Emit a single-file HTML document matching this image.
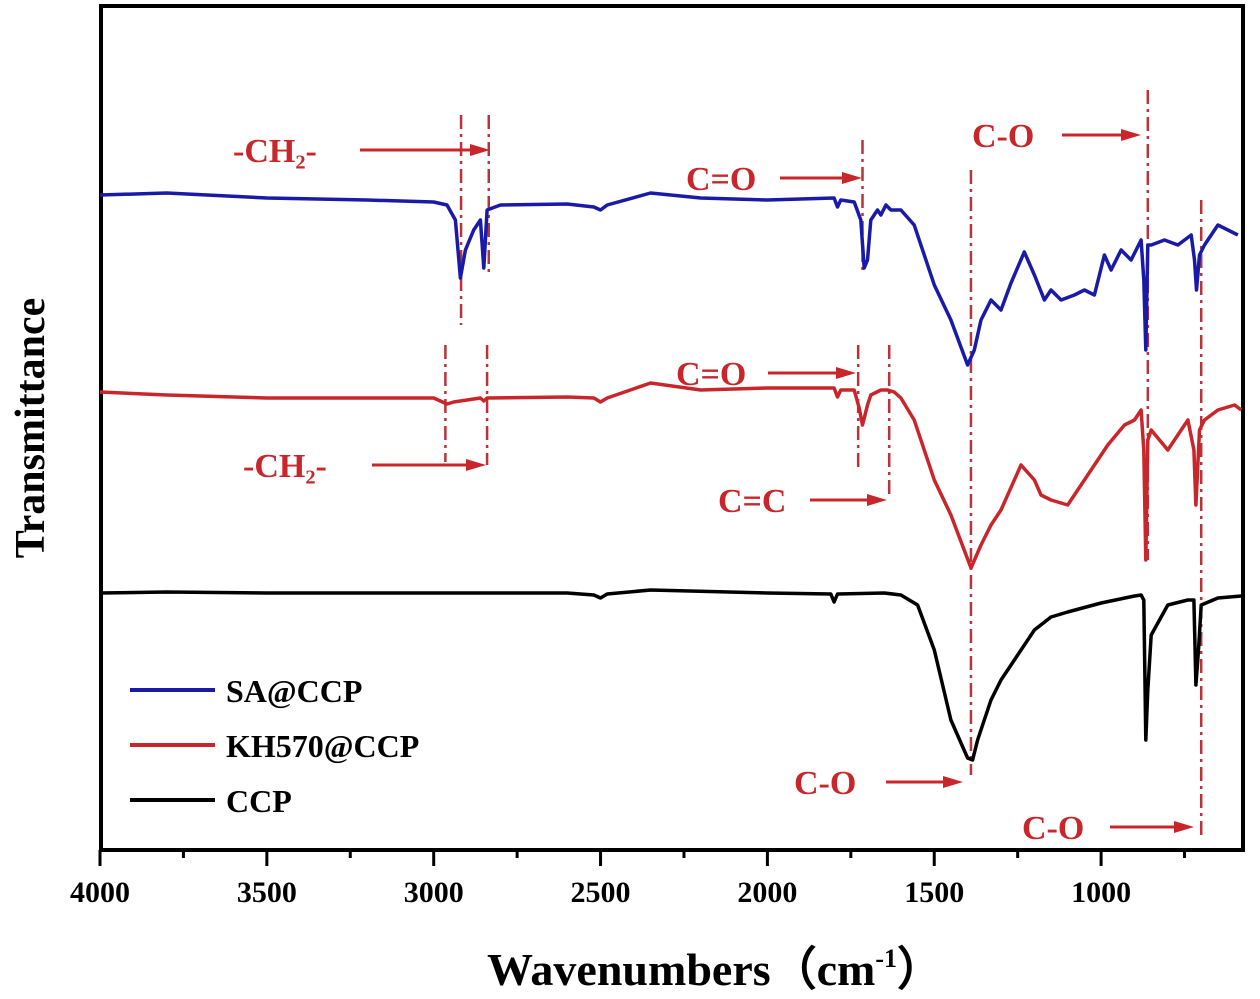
<!DOCTYPE html>
<html><head><meta charset="utf-8">
<style>
body{margin:0;background:#fff;}
svg{display:block;}
text{font-family:"Liberation Serif",serif;font-weight:bold;}
.ann{fill:#c8262a;font-size:34px;}
</style></head>
<body>
<svg id="chart" width="1260" height="999" viewBox="0 0 1260 999" xmlns="http://www.w3.org/2000/svg">
<rect x="101" y="6" width="1142" height="844" fill="none" stroke="#000" stroke-width="4"/>
<g id="ticks"></g>
<g id="annos"></g>
<g id="series"></g>
<text x="715" y="985" text-anchor="middle" font-size="46">Wavenumbers（cm<tspan font-size="26" dy="-18">-1</tspan><tspan dy="18">）</tspan></text>
<text transform="translate(44,428) rotate(-90)" text-anchor="middle" font-size="42">Transmittance</text>
<g>
<line x1="130" y1="690" x2="215" y2="690" stroke="#1a1aa8" stroke-width="4"/>
<text x="226" y="702" font-size="32">SA@CCP</text>
<line x1="130" y1="745" x2="215" y2="745" stroke="#c8262a" stroke-width="4"/>
<text x="226" y="757" font-size="32">KH570@CCP</text>
<line x1="130" y1="800" x2="215" y2="800" stroke="#000" stroke-width="4"/>
<text x="226" y="812" font-size="32">CCP</text>
</g>
</svg>
<script>
// data: wavenumber (cm-1) and signal (a.u., larger = higher on chart)
const saWave = [4000,3800,3500,3200,3000,2960,2935,2920,2905,2880,2860,2850,2840,2800,2600,2520,2500,2480,2350,2200,2000,1800,1790,1780,1740,1720,1710,1700,1690,1670,1660,1645,1630,1600,1560,1500,1450,1400,1380,1360,1330,1300,1270,1230,1200,1170,1150,1120,1080,1050,1020,990,970,940,910,880,872,866,860,850,810,770,730,720,714,705,690,650,620,590];
const saVal  = [655,657,652,650,648,645,630,572,600,620,630,582,640,645,646,643,640,645,657,652,650,652,643,650,648,630,582,590,630,640,635,645,640,640,625,565,530,485,500,530,550,540,567,598,575,550,560,550,555,560,555,595,580,600,590,610,570,500,605,605,610,605,615,590,560,595,605,625,620,615];
const khWave = [4000,3800,3500,3200,3000,2960,2940,2900,2860,2850,2840,2600,2520,2500,2480,2350,2200,2000,1800,1790,1780,1740,1725,1715,1700,1690,1660,1640,1620,1600,1560,1500,1450,1390,1360,1330,1300,1240,1200,1180,1150,1100,1050,980,930,900,880,872,866,860,850,800,760,740,722,716,705,690,650,600,580];
const khVal  = [458,455,452,452,452,446,448,450,452,449,452,453,452,448,452,467,460,462,462,453,460,460,442,425,445,455,460,460,458,452,430,370,335,282,305,325,340,385,370,355,350,345,370,405,425,430,440,400,290,410,420,400,420,430,400,345,420,430,440,445,440];
const ccpWave = [4000,3800,3500,3000,2600,2520,2500,2480,2350,2000,1810,1800,1790,1650,1600,1550,1500,1450,1400,1385,1370,1330,1300,1250,1200,1150,1100,1000,900,880,872,866,860,850,800,740,722,716,708,700,650,580];
const ccpVal  = [257,258,257,257,257,255,252,256,260,257,256,248,256,257,255,245,200,130,92,90,110,150,170,195,220,233,238,247,254,255,250,110,160,215,245,250,250,165,200,245,252,254];
const xTicks = [4000,3500,3000,2500,2000,1500,1000];
const xMinor = [3750,3250,2750,2250,1750,1250,750];

const NS='http://www.w3.org/2000/svg';
const svg=document.getElementById('chart');
function xS(w){return 100+(4000-w)*0.3337;}
function yS(v){return 850-v;}
function mk(tag,attrs,parent){const e=document.createElementNS(NS,tag);for(const k in attrs)e.setAttribute(k,attrs[k]);parent.appendChild(e);return e;}

const tg=document.getElementById('ticks');
xTicks.forEach(t=>{
  const l=mk('line',{x1:xS(t),x2:xS(t),y1:850,y2:866,stroke:'#000','stroke-width':3},tg);
  
  
  const tx=mk('text',{x:xS(t),y:902,'text-anchor':'middle','font-size':30},tg);
  tx.textContent=t;
  
  
});
xMinor.forEach(t=>{
  const l=mk('line',{x1:xS(t),x2:xS(t),y1:850,y2:858,stroke:'#000','stroke-width':3},tg);
  
  
});

const ag=document.getElementById('annos');
const vlines=[[2918,115,325],[2835,115,275],[1390,170,775],[860,90,560],[700,200,838],[1715,140,275],[2965,345,462],[2840,345,465],[1728,345,470],[1635,345,497]];
vlines.forEach(v=>{
  const l=mk('line',{x1:xS(v[0]),x2:xS(v[0]),y1:v[1],y2:v[2],stroke:'#b8343a','stroke-width':2.5,'stroke-dasharray':'14 5 3 5'},ag);
  
  
});
const labels=[['-CH₂-',233,150,360,490],['C=O',686,178,780,862],['C-O',972,135,1062,1141],['C=O',676,373,768,856],['-CH₂-',243,465,372,486],['C=C',718,500,810,887],['C-O',794,782,886,963],['C-O',1022,827,1110,1194]];
labels.forEach(a=>{
  const t=mk('text',{x:a[1],y:a[2]+12,class:'ann'},ag);
  t.textContent=a[0];
  
  
  const l=mk('line',{x1:a[3],x2:a[4]-12,y1:a[2],y2:a[2],stroke:'#c8262a','stroke-width':3},ag);
  
  
  const p=mk('polygon',{points:`${a[4]},${a[2]} ${a[4]-20},${a[2]-6} ${a[4]-20},${a[2]+6}`,fill:'#c8262a'},ag);
  
  
});

const sg=document.getElementById('series');
function drawSeries(w,v,color,name){
  const d=w.map((x,i)=>(i?'L':'M')+xS(x).toFixed(1)+','+yS(v[i]).toFixed(1)).join(' ');
  const p=mk('path',{d:d,fill:'none',stroke:color,'stroke-width':3.5,'stroke-linejoin':'round'},sg);
  
  
}
drawSeries(saWave,saVal,'#1a1aa8','series-sa-ccp');
drawSeries(khWave,khVal,'#c8262a','series-kh570-ccp');
drawSeries(ccpWave,ccpVal,'#000','series-ccp');
</script>
</body></html>
